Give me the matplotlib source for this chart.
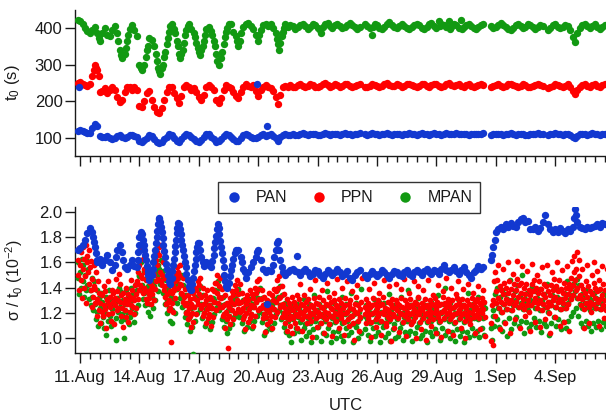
import numpy as np
import matplotlib
matplotlib.use("Agg")
import matplotlib.pyplot as plt
import matplotlib.dates as mdates
from matplotlib.ticker import FixedLocator
from matplotlib.lines import Line2D
from datetime import datetime, timedelta

# ---------------- data ----------------
# one string per day (10 Aug ... 6 Sep); slots every 3 h (00,03,...,21 UTC) separated by ","
# several values in one slot are spread evenly over the 3 h of that slot
START_DAY = "2000-08-10"

pan_t0 = [
    ",,,,,,,120 240",
    "121,119,117,114,113,128,138,133",
    "106,104,103,106,101,97,100,105",
    "108,104,99,102,107,109,105,103",
    "92,90,95,101,108,106,98,88",
    "86,90,97,104,110,108,100,91",
    "88,96,106,110,107,103,98,92",
    "88,95,103,111,110,104,97,90",
    "91,98,105,111,109,103,96,91",
    "93,101,108,112,108,102,99,101 246",
    "104,108,110,106 133,109,111,105,100",
    "92,102,108,110,107,109,111,108",
    "109,111,113,110,108,110,112,111",
    "108,109,112,114,111,109,110,112",
    "110,108,111,113,112,110,108,110",
    "112,113,,110,109,111,113,112",
    "110,108,110,112,113,111,109,110",
    "112,111,109,110,112,113,112,110",
    "109,111,113,112,110,109,111,113",
    "112,110,109,111,113,112,110,111",
    "113,111,110,112,111,109,110,112",
    "111,110,112,113,,,109,111",
    "110,112,111,109,110,112,113,111",
    "109,110,112,111,109,108,110,112",
    "111,113,112,110,,108,110,111",
    "113,112,110,109,111,112,108,104",
    "101,106,110,112,111,109,111,113",
    "112,110,109,111,112",
]

ppn_t0 = [
    ",,,,,,,250",
    "254,248,244,242,246,270 285,300 292,285 270",
    "225,228,236,222,230,238,232,212",
    "198,205,225,240,238,232,240,230",
    "188,184,200,222,228,205,185,172",
    "168,182,205,225,238,240,222,210",
    "195,215,238,245,240,232,236,225",
    "212,205,218,238,244,240,232,205",
    "195,210,232,244,240,236,226,215",
    "208,225,240,246,242,238,244,228",
    "215,232,240,244,240,236,228,212",
    "192,218,238,242,240,244,240,238",
    "244,246,241,238,243,247,245,240",
    "238,242,247,249,244,240,242,246",
    "244,240,243,248,246,241,238,242",
    "245,247,,240,238,243,246,244",
    "241,239,243,247,249,245,241,243",
    "246,244,240,242,246,248,245,241",
    "239,243,247,246,242,240,244,248",
    "246,242,239,243,247,249,244,241",
    "245,247,243,240,244,246,242,240",
    "243,245,247,244,,,238,242",
    "244,246,243,240,242,246,248,244",
    "241,238,243,246,244,240,238,242",
    "245,247,244,241,,236,240,243",
    "246,244,241,238,243,246,240,228",
    "220,232,240,245,247,243,240,244",
    "246,243,240,244,246",
]

mpan_t0 = [
    ",,,,,,,422",
    "420,412,400,392,385,395,402,385 372",
    "365,385,400,382,378,395,405,385 365",
    "340 325,318,330 345,365 380,398,408,395,378",
    "300 292,285,300 320,340 350,372,368,350 330,310 290",
    "282 275,290 300,320 335,355 372,390 405,410,398 385,365 350",
    "330 318,330 340,360 380,395 405,412,398,385 375,360 345",
    "335 325,340 350,365 380,398,402,392 380,365 350,330 310",
    "300,318 335,355 375,390 400,412,410,390,378 365",
    "350 365,385,402,410,414,405,398,380",
    "365 380,395,408,412,405,410,400,385 370",
    "355 340,360 378,390 400,410,402,408,405,398",
    "402,408,412,406,398,404,410,407",
    "400,395 385,404,410,413,406,400,408",
    "411,405,399,403,409,414,408,402",
    "398,404,,410,405,399,380 404,410",
    "407,401,397,404,411,415,409,403",
    "399,405,410,406,400,396,403,409",
    "412,408,401,397,404,410,413,406",
    "400,420 405,411,408,402,418 398,404,410",
    "407,401,422 398,403,409,412,405,400",
    "396,403,408,411,,,405,399",
    "402,408,413,409,403,398,395,401",
    "407,411,406,400,404,410,408,402",
    "398,404,409,405,,395,401,407",
    "410,404,399,403,408,405,395,375",
    "362,385,400,408,411,406,401,405",
    "410,404,398,402,407",
]

pan_rel = [
    ",,,,,,,1.70",
    "1.71,1.74,1.78,1.83,1.87,1.84 1.80 1.76,1.72 1.67 1.62,1.60",
    "1.63,1.58,1.62,1.66,1.60,1.54,1.58 1.64,1.70",
    "1.74,1.68 1.62,1.56,1.55,1.58,1.62,1.57,1.56 1.62 1.68 1.74",
    "1.80 1.84,1.82 1.78 1.74,1.70 1.66 1.62,1.57 1.53 1.50,1.46,1.50 1.55 1.60,1.65 1.70 1.75,1.80 1.85 1.90 1.94",
    "1.95 1.92 1.88,1.84 1.79 1.74,1.69 1.64 1.59,1.55 1.50,1.45 1.43,1.48 1.53 1.58,1.63 1.68 1.73 1.78,1.83 1.87 1.91",
    "1.90 1.86 1.82,1.78 1.74 1.70,1.65 1.60 1.56,1.51 1.46,1.41 1.39,1.38 1.43 1.48,1.53 1.58 1.63,1.68 1.72 1.75",
    "1.75 1.70,1.64 1.60,1.57,1.60,1.58,1.56 1.61,1.66 1.71 1.76,1.81 1.86 1.90",
    "1.87 1.82 1.77,1.72 1.67 1.62,1.56 1.50 1.45,1.41 1.40,1.44 1.49,1.54 1.58,1.63 1.67,1.70",
    "1.70,1.64 1.60,1.55 1.52,1.48,1.52,1.56,1.60,1.64 1.68",
    "1.70,1.62,1.55,1.52 1.27,1.54,1.53,1.58 1.64,1.70 1.75",
    "1.77 1.70,1.62 1.56,1.52,1.50,1.52,1.54,1.55,1.53 1.65",
    "1.52,1.50,1.53,1.55,1.52,1.49,1.51,1.54",
    "1.53,1.50,1.48,1.51,1.54,1.52,1.50,1.52",
    "1.55,1.52,1.49,1.51,1.53,1.48,1.46,1.50",
    "1.52,1.54,,1.50,1.48,1.51,1.53,1.51",
    "1.49,1.51,1.54,1.52,1.50,1.48,1.51,1.53",
    "1.52,1.50,1.49,1.52,1.54,1.51,1.49,1.52",
    "1.54,1.52,1.50,1.53,1.55,1.52,1.51,1.54",
    "1.53,1.51,1.55,1.58,1.54,1.52,1.54,1.56",
    "1.53,1.51,1.54,1.56,1.52,1.50,1.48,1.52",
    "1.54,1.57,1.55,1.56,,,1.62 1.66,1.72 1.78",
    "1.84,1.86,1.88,1.86,1.90,1.88,1.91,1.89",
    "1.88,1.92,1.94,1.95,1.92,1.93,1.86,1.86",
    "1.88,1.85,1.87,1.92,1.97,1.90,1.86,1.84",
    "1.86,1.84,1.87,1.85,1.83,1.86,1.85,1.88 1.95",
    "2.02 1.97,1.92,1.88,1.87,1.86,1.88,1.87,1.88",
    "1.89,1.90,1.88,1.91,1.90",
]

# values x100
ppn_rel = [
    ",,,,,,,150 162 138 171",
    "158 146 168 132,172 155 140 163,149 174 128 160,165 152 143 170,156 138 161 125,147 133 158 141,139 128 152 118,131 145 122 136",
    "128 112 135 121,134 118 141 126,123 137 108 130,131 145 119 127,125 133 114 138,120 129 136 111,132 126 147 122,137 124 130 151",
    "129 143 118 134,124 136 109 128,131 122 140 117,127 135 113 130,133 121 126 146,138 125 132 119,130 142 124 135,145 131 152 138",
    "158 142 171 150,148 163 136 155,140 152 131 146,137 128 149 135,132 144 127 139,141 135 152 130,150 139 162 145,158 168 147 172",
    "166 152 174 145,150 142 160 138,141 133 148 127,135 128 142 122,130 124 137 97,128 136 121 141,138 145 132 150,147 156 140 152",
    "150 158 143 136,142 135 148 129,133 126 139 120,128 121 134 115,124 131 118 109,127 120 136 113,132 125 140 119,138 130 145 127",
    "142 135 148 124,133 126 140 118,127 120 134 112,130 123 138 116,126 119 133 110,131 124 139 117,137 129 144 122,144 136 150 128",
    "141 133 148 125,132 125 139 118,126 119 134 108,121 115 128 92,125 118 132 111,129 122 137 115,134 127 142 120,138 130 146 123",
    "135 128 143 121,129 122 136 115,124 118 131 107,127 120 134 113,130 123 138 116,126 119 135 110,132 125 140 118,136 129 145 122",
    "139 131 147 124,131 124 138 116,126 119 133 105,123 117 130 111,128 121 136 114,125 118 134 108,130 123 139 117,137 129 146 121",
    "140 132 149 125,133 126 141 117,127 120 135 112,124 117 131 106,121 115 128 110,125 118 133 104,122 116 129 112,126 119 134 108",
    "124 118 131 143,121 127 115 106,126 119 134 122,118 124 129 112,123 131 117 139,120 126 114 101,125 119 132 146,122 128 116 109",
    "127 121 133 118,119 125 112 138,124 130 117 104,121 127 115 144,126 120 133 111,118 124 129 102,123 117 130 136,120 126 114 147",
    "125 119 131 108,122 128 116 140,119 124 113 103,126 132 120 145,121 115 127 110,124 130 118 137,118 123 112 99,127 121 133 142",
    "120 126 114 106,123 117 129 148,,125 119 131 112,122 128 116 139,119 125 113 101,126 120 132 144,121 127 115 109",
    "124 118 130 136,120 126 114 103,127 121 133 146,119 124 112 110,123 129 117 141,121 115 127 98,125 131 119 108,118 124 130 143",
    "122 128 116 105,126 120 132 139,119 125 113 147,124 118 130 102,121 127 115 136,125 119 131 111,120 126 114 145,123 129 117 100",
    "127 121 133 141,119 124 113 107,122 128 116 138,125 119 131 99,120 126 114 146,124 118 130 110,121 127 115 134,126 120 132 104",
    "123 129 117 142,120 126 114 101,127 121 133 137,122 116 128 148,125 119 131 106,121 127 115 140,124 130 118 103,119 125 113 135",
    "126 120 132 145,122 128 116 108,125 119 131 139,120 126 114 100,124 118 130 143,121 127 115 111,126 132 120 136,123 117 129 104",
    "125 131 119 141,122 116 128 107,126 120 132 138,123 129 117 102,,,112 98 126 95,130 145 118 152",
    "137 128 146 158,132 124 141 107,129 138 121 155,135 127 144 112,131 140 123 160,136 128 145 104,130 139 122 151,134 126 143 115",
    "138 129 147 161,133 125 142 108,136 144 127 157,131 123 140 118,135 143 126 153,130 138 121 106,134 126 143 159,137 129 146 113",
    "132 140 124 150,136 128 145 109,130 139 122 156,135 127 143 115,133 141 125 158,129 137 120 104,134 142 126 152,138 130 147 117",
    "133 141 125 160,137 129 146 110,131 139 123 154,136 128 144 113,132 140 124 157,135 127 143 106,139 131 148 161,142 134 152 165",
    "146 138 155 168,140 132 149 162,134 142 126 155,131 139 123 108,136 128 145 158,133 141 125 112,129 137 121 150,135 127 144 160",
    "132 140 124 153,137 129 146 110,131 139 123 157,134 126 143 116,130 138 122 155",
]

# values x100
mpan_rel = [
    ",,,,,,,148 160 135",
    "152 140 163,145 158 133,150 138 161,142 155 131,138 126 148,133 122 145,127 115 138,121 110 132",
    "124 112 136,129 117 108,120 133 103,126 114 138,118 131 110,123 112 127,128 116 99,132 121 140",
    "125 137 114,119 130 100,127 115 138,121 133 111,129 117 140,124 136 113,131 120 143,138 126 149",
    "150 138 160,142 131 153,136 126 147,131 121 141,127 118 137,133 124 145,141 130 152,149 137 158",
    "155 143 162,146 136 153,137 127 146,130 120 139,124 114 133,122 112 130,131 120 141,139 128 148",
    "143 132 150,135 125 142,127 117 134,121 111 128,116 106 124,119 109 88,125 114 133,131 120 139",
    "134 123 141,127 116 134,120 110 127,123 113 131,118 107 126,124 113 132,130 119 138,137 125 145",
    "133 122 140,126 115 133,119 109 127,114 104 122,118 108 126,122 111 130,128 117 135,131 120 139",
    "128 117 136,122 112 130,117 106 125,120 109 128,124 113 131,119 108 127,125 114 133,129 118 137",
    "132 121 140,124 113 132,119 103 127,116 106 124,121 110 129,118 107 126,123 112 131,130 119 138",
    "133 122 141,126 115 134,120 109 128,117 105 125,114 103 122,118 97 126,115 104 123,119 108 127",
    "117 106 124,113 99 121,119 108 131,111 102 118,116 105 127,112 97 120,118 107 134,114 101 122",
    "120 109 127,112 98 119,117 104 125,114 103 137,119 108 126,111 97 118,116 105 128,113 100 123",
    "118 106 125,115 102 133,112 98 120,119 108 127,114 103 122,117 105 136,111 97 119,120 109 128",
    "113 100 121,116 104 139,,118 107 126,115 103 124,112 98 120,119 108 131,114 102 122",
    "117 105 129,113 97 121,120 109 128,112 101 119,116 104 135,114 98 122,118 107 126,111 100 125",
    "115 102 123,119 108 133,112 99 120,117 105 124,114 103 138,118 106 126,113 98 121,116 104 124",
    "120 109 132,112 100 119,115 103 127,118 106 125,113 97 121,117 105 129,114 102 123,119 107 126",
    "116 104 134,113 99 121,120 108 127,115 103 140,118 106 125,114 100 128,117 105 124,112 98 120",
    "119 107 131,115 102 123,118 106 126,113 97 121,117 105 136,114 101 122,119 108 127,116 103 124",
    "118 106 133,115 101 122,119 108 127,116 103 124,,,108 99 118,122 110 135",
    "128 115 140,124 109 133,121 106 138,127 113 135,123 102 131,129 116 146,122 107 130,126 112 137",
    "130 117 142,125 110 134,128 114 150,123 104 131,127 113 136,122 108 130,126 111 141,129 116 137",
    "124 109 132,128 114 139,122 105 130,127 112 135,125 110 143,121 103 129,126 112 134,130 117 140",
    "125 110 133,129 115 138,123 107 131,127 113 136,124 108 145,128 114 135,131 118 141,134 121 144",
    "137 124 147,132 118 142,127 112 135,124 109 133,128 114 138,125 110 132,122 106 130,126 112 136",
    "124 109 132,128 114 138,123 107 131,127 113 136,125 110 134",
]

TICK_DATES = ["2000-08-11", "2000-08-14", "2000-08-17", "2000-08-20", "2000-08-23",
              "2000-08-26", "2000-08-29", "2000-09-01", "2000-09-04"]
TICK_LABELS = ["11.Aug", "14.Aug", "17.Aug", "20.Aug", "23.Aug",
               "26.Aug", "29.Aug", "1.Sep", "4.Sep"]
SERIES = ["PAN", "PPN", "MPAN"]
COLORS = {"PAN": "#1238d0", "PPN": "#ff0000", "MPAN": "#129912"}


def parse(lines, scale=1.0):
    start = datetime.strptime(START_DAY, "%Y-%m-%d")
    ts, vs = [], []
    for d, line in enumerate(lines):
        for j, slot in enumerate(line.split(",")):
            toks = slot.split()
            n = len(toks)
            for k, tok in enumerate(toks):
                ts.append(start + timedelta(days=d, hours=3 * j + 3.0 * k / n))
                vs.append(float(tok) * scale)
    return np.array(ts), np.array(vs)


# ---------------- style ----------------
plt.rcParams["font.family"] = ["Liberation Sans", "DejaVu Sans"]
plt.rcParams["mathtext.fontset"] = "custom"
plt.rcParams["mathtext.rm"] = "Liberation Sans"
plt.rcParams["mathtext.it"] = "Liberation Sans:italic"
FS = 12
INK = "#1a1a1a"

fig = plt.figure(figsize=(6.06, 4.15), dpi=100)
ax1 = fig.add_axes([0.1238, 0.6241, 0.8762, 0.3518])
ax2 = fig.add_axes([0.1238, 0.1494, 0.8762, 0.3518])

top = {"PAN": parse(pan_t0), "PPN": parse(ppn_t0), "MPAN": parse(mpan_t0)}
bot = {"PAN": parse(pan_rel), "PPN": parse(ppn_rel, 0.01), "MPAN": parse(mpan_rel, 0.01)}

SIZE_TOP = 28
SIZE_BOT = {"PAN": 28, "PPN": 17, "MPAN": 17}
for name in ["MPAN", "PPN", "PAN"]:
    t, v = top[name]
    ax1.scatter(t, v, s=SIZE_TOP, color=COLORS[name], linewidths=0, zorder=3)
    t, v = bot[name]
    ax2.scatter(t, v, s=SIZE_BOT[name], color=COLORS[name], linewidths=0, zorder=3)

xmin = datetime(2000, 8, 10, 17, 56)
xmax = datetime(2000, 9, 6, 13, 35)
ticks = [mdates.date2num(datetime.strptime(s, "%Y-%m-%d")) for s in TICK_DATES]

for ax in (ax1, ax2):
    ax.set_xlim(xmin, xmax)
    for s in ("top", "right"):
        ax.spines[s].set_visible(False)
    for s in ("left", "bottom"):
        ax.spines[s].set_color(INK)
        ax.spines[s].set_linewidth(1.0)
    ax.xaxis.set_major_locator(FixedLocator(ticks))
    ax.xaxis.set_minor_locator(mdates.HourLocator(byhour=[0, 12]))
    ax.tick_params(axis="x", which="major", length=7.5, width=1.0, color=INK,
                   labelsize=FS, labelcolor=INK, pad=5)
    ax.tick_params(axis="x", which="minor", length=4.5, width=1.0, color=INK)
    ax.tick_params(axis="y", which="major", length=7, width=1.0, color=INK,
                   labelsize=FS, labelcolor=INK, pad=2)
    ax.set_facecolor("none")

ax1.set_ylim(51, 449)
ax1.set_yticks([100, 200, 300, 400])
ax1.tick_params(axis="x", labelbottom=False)
ax1.set_ylabel(r"$\mathregular{t_0}$ (s)", fontsize=FS, color=INK)
ax1.yaxis.set_label_coords(-0.100, 0.5)

ax2.set_ylim(0.884, 2.037)
ax2.set_yticks([1.0, 1.2, 1.4, 1.6, 1.8, 2.0])
ax2.set_yticklabels(["1.0", "1.2", "1.4", "1.6", "1.8", "2.0"])
ax2.set_xticklabels(TICK_LABELS)
ax2.set_ylabel(r"σ / $\mathregular{t_0}$ ($\mathregular{10^{-2}}$)", fontsize=11.5, color=INK)
ax2.yaxis.set_label_coords(-0.095, 0.5)
ax2.set_xlabel("UTC", fontsize=FS, color=INK)
ax2.xaxis.set_label_coords(0.51, -0.31)

handles = [Line2D([], [], marker="o", linestyle="none", markersize=7.5,
                  markerfacecolor=COLORS[n], markeredgewidth=0) for n in SERIES]
leg = fig.legend(handles, SERIES, loc="center", bbox_to_anchor=(0.576, 0.523),
                 ncol=3, fontsize=11.5, frameon=True, fancybox=False,
                 handlelength=1.0, handletextpad=0.9, columnspacing=1.45,
                 borderpad=0.5, framealpha=1)
leg.get_frame().set_edgecolor("#333333")
leg.get_frame().set_linewidth(1.0)
for txt in leg.get_texts():
    txt.set_color(INK)

fig.savefig("out.png", dpi=100)
